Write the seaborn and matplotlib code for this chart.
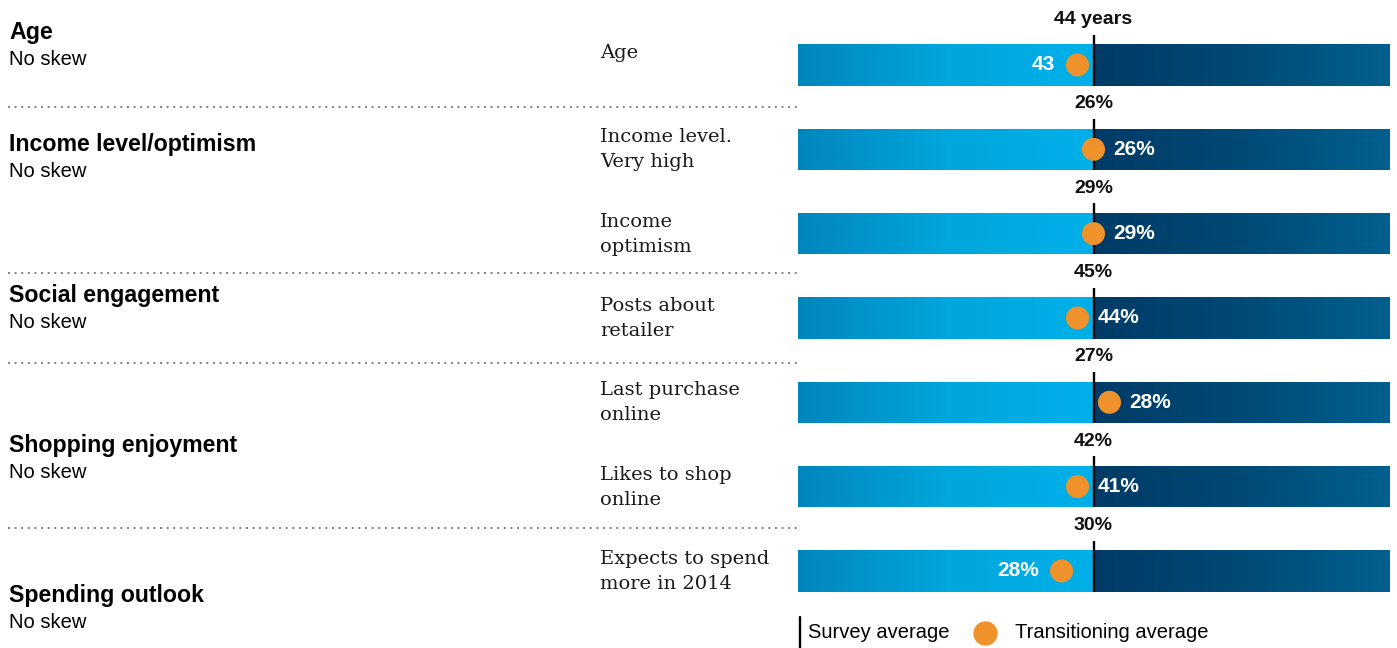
import numpy as np
import pandas as pd
import matplotlib
matplotlib.use("Agg")
import matplotlib.pyplot as plt
import matplotlib.transforms as mtransforms
from matplotlib.colors import LinearSegmentedColormap
from matplotlib.lines import Line2D
import seaborn as sns

# ---------------- data ----------------
rows = ["Age", "Income level.\nVery high", "Income\noptimism", "Posts about\nretailer",
        "Last purchase\nonline", "Likes to shop\nonline", "Expects to spend\nmore in 2014"]
survey = [44, 26, 29, 45, 27, 42, 30]
transitioning = [43, 26, 29, 44, 28, 41, 28]
survey_labels = ["44 years", "26%", "29%", "45%", "27%", "42%", "30%"]
trans_labels = ["43", "26%", "29%", "44%", "28%", "41%", "28%"]
groups = ["Age", "Income level/optimism", "Social engagement", "Shopping enjoyment", "Spending outlook"]
group_notes = ["No skew", "No skew", "No skew", "No skew", "No skew"]

# ---------------- style / layout ----------------
W, HPX = 1397, 648
label_side = ["left", "right", "right", "right", "right", "right", "left"]
group_baselines_px = [39, 151, 302, 452, 602]
separators_px = [107, 273, 363, 528]
ORANGE = "#f0922b"
SANS = ["Liberation Sans", "DejaVu Sans"]
SERIF = ["DejaVu Serif"]

sns.set_theme(style="white")
plt.rcParams["font.family"] = SANS

fig = plt.figure(figsize=(W / 100, HPX / 100), dpi=100)
ax = fig.add_axes([798 / W, 0, 591 / W, 1])

n = len(rows)
pos = np.arange(n)
HALF = 18.5  # half-width of each bar, in value-difference units
delta = np.array(transitioning) - np.array(survey)
df = pd.DataFrame({"row": rows, "delta": delta, "pos": pos,
                   "left": -HALF, "right": HALF})

sns.barplot(data=df, x="left", y="row", orient="h", width=0.49, color="#00a0d8",
            errorbar=None, linewidth=0, ax=ax)
sns.barplot(data=df, x="right", y="row", orient="h", width=0.49, color="#004a78",
            errorbar=None, linewidth=0, ax=ax)

cm_left = LinearSegmentedColormap.from_list("l", ["#0086bc", "#00a6dd", "#00b0e9"])
cm_right = LinearSegmentedColormap.from_list("r", ["#003b67", "#004a76", "#00608f"])
grad = np.linspace(0, 1, 256).reshape(1, -1)
for p in list(ax.patches):
    x0 = min(p.get_x(), p.get_x() + p.get_width())
    x1 = max(p.get_x(), p.get_x() + p.get_width())
    y0 = p.get_y()
    y1 = p.get_y() + p.get_height()
    cmap = cm_left if x0 < 0 else cm_right
    im = ax.imshow(grad, cmap=cmap, extent=(x0, x1, y1, y0), aspect="auto",
                   zorder=2, interpolation="bilinear")
    im.set_clip_path(p)

# survey average lines
ax.vlines(np.zeros(n), pos - 0.36, pos + 0.245, color="black", lw=1.7, zorder=4)

# transitioning dots
sns.scatterplot(data=df, x="delta", y="pos", s=275, color=ORANGE, edgecolor="none",
                zorder=5, legend=False, ax=ax)

row_px = 84.33
top_px = 65
ax.set_xlim(-HALF, HALF)
ax.set_ylim((HPX - top_px) / row_px, -top_px / row_px)
ax.axis("off")

for i in range(n):
    ax.text(0, pos[i] - 0.54, survey_labels[i], ha="center", va="center",
            fontsize=14, fontweight="bold", color="#111111", zorder=6)
    if label_side[i] == "right":
        off, ha = 14.5, "left"
    else:
        off, ha = -16, "right"
    ax.annotate(trans_labels[i], (delta[i], pos[i]), xytext=(off, 0),
                textcoords="offset points", ha=ha, va="center",
                fontsize=15, fontweight="bold", color="white", zorder=6)

# middle row labels
trans = mtransforms.blended_transform_factory(fig.transFigure, ax.transData)
for i in range(n):
    ax.text(600 / W, pos[i] - 0.25, rows[i], transform=trans, ha="left", va="top",
            fontsize=14, family=SERIF, color="#1a1a1a", linespacing=1.5)

# left group labels
for g, note, yb in zip(groups, group_notes, group_baselines_px):
    fig.text(9 / W, 1 - yb / HPX, g, ha="left", va="baseline", fontsize=16.7,
             fontweight="bold", color="black")
    fig.text(9 / W, 1 - (yb + 26) / HPX, note, ha="left", va="baseline",
             fontsize=14.5, color="black")

# dotted separators
for yp in separators_px:
    fig.add_artist(Line2D([8 / W, 800 / W], [1 - yp / HPX, 1 - yp / HPX],
                          transform=fig.transFigure, color="#808080", lw=1.4,
                          linestyle=(0, (1, 2.4))))

# legend
fig.add_artist(Line2D([800 / W, 800 / W], [1 - 617 / HPX, 0], transform=fig.transFigure,
                      color="black", lw=1.7))
fig.text(808 / W, 1 - 633 / HPX, "Survey average", ha="left", va="center",
         fontsize=14.5, color="black")
fig.add_artist(Line2D([985 / W], [1 - 633 / HPX], transform=fig.transFigure,
                      marker="o", markersize=16.5, color=ORANGE, linestyle="none"))
fig.text(1015 / W, 1 - 633 / HPX, "Transitioning average", ha="left", va="center",
         fontsize=14.5, color="black")

fig.savefig("out.png", dpi=100)
